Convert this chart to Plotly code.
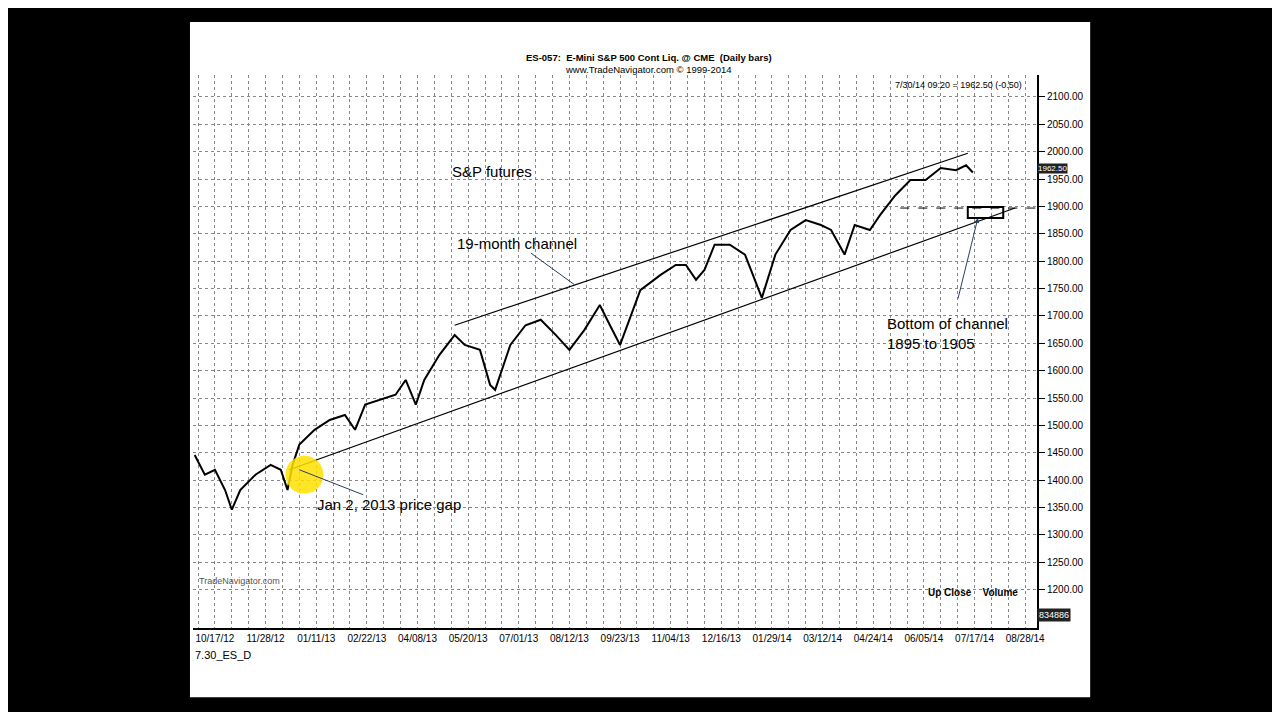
import plotly.graph_objects as go

# trading-day index (0 = 10/17/12) and E-mini S&P close
day = [-12, -6, 0, 6, 10, 15, 24, 33, 39, 43, 46, 50, 59, 68, 77, 83, 89, 98, 107, 113,
       119, 124, 133, 142, 148, 157, 163, 166, 175, 184, 193, 202, 210, 219, 228, 234,
       240, 252, 264, 273, 279, 285, 290, 296, 305, 314, 320, 324, 332, 341, 350, 359,
       365, 373, 379, 388, 394, 403, 412, 421, 430, 439, 445, 449]
close = [1446, 1410, 1419, 1382, 1346, 1382, 1410, 1428, 1419, 1382, 1428, 1465, 1492,
         1510, 1519, 1492, 1538, 1547, 1556, 1583, 1538, 1583, 1629, 1665, 1647, 1638,
         1574, 1565, 1647, 1683, 1693, 1665, 1638, 1675, 1720, 1683, 1647, 1747, 1775,
         1793, 1793, 1766, 1784, 1830, 1830, 1812, 1766, 1733, 1812, 1857, 1875, 1866,
         1857, 1812, 1866, 1857, 1884, 1920, 1948, 1948, 1970, 1966, 1975, 1962]

tick_days = list(range(0, 481, 30))
tick_labels = ["10/17/12", "11/28/12", "01/11/13", "02/22/13", "04/08/13", "05/20/13",
               "07/01/13", "08/12/13", "09/23/13", "11/04/13", "12/16/13", "01/29/14",
               "03/12/14", "04/24/14", "06/05/14", "07/17/14", "08/28/14"]
price_ticks = list(range(1200, 2101, 50))

upper_x, upper_y = [142, 446], [1683, 1997]
lower_x, lower_y = [44, 474], [1419, 1897]
zone_x, zone_y = [446, 467], [1879, 1899]
last_price = 1962.50

fig = go.Figure()
fig.add_trace(go.Scatter(x=upper_x, y=upper_y, mode="lines", line=dict(color="black", width=1.2)))
fig.add_trace(go.Scatter(x=lower_x, y=lower_y, mode="lines", line=dict(color="black", width=1.2)))
fig.add_trace(go.Scatter(x=[406, 487], y=[1897, 1897], mode="lines",
                         line=dict(color="black", width=1, dash="dash")))
fig.add_trace(go.Scatter(x=day, y=close, mode="lines", line=dict(color="black", width=2)))
fig.add_trace(go.Scatter(x=[53], y=[1410], mode="markers",
                         marker=dict(size=38, color="rgba(255,225,0,0.85)")))
fig.add_shape(type="rect", x0=zone_x[0], x1=zone_x[1], y0=zone_y[0], y1=zone_y[1],
              line=dict(color="black", width=2))

# white panel on black background
fig.add_shape(type="rect", xref="paper", yref="paper", x0=-0.0036, x1=1.063, y0=-0.125, y1=1.096,
              fillcolor="white", line=dict(width=0), layer="below")

font = dict(family="Liberation Sans, Arial", color="black")
big = dict(family="Liberation Sans, Arial", size=15, color="black")
fig.add_annotation(x=164, y=1963, text="S&P futures", showarrow=False, font=big)
fig.add_annotation(x=213, y=1757, ax=179, ay=1833, axref="x", ayref="y", text="19-month channel",
                   showarrow=True, arrowhead=0, arrowwidth=1, font=big)
fig.add_annotation(x=50, y=1419, ax=103, ay=1355, axref="x", ayref="y",
                   text="Jan 2, 2013 price gap", showarrow=True, arrowhead=0, arrowwidth=1, font=big)
fig.add_annotation(x=452, y=1879, ax=440, ay=1729, axref="x", ayref="y", text="",
                   showarrow=True, arrowhead=2, arrowwidth=1)
fig.add_annotation(x=397, y=1668, text="Bottom of channel<br>1895 to 1905", showarrow=False,
                   xanchor="left", align="left", font=big)

fig.add_annotation(xref="paper", yref="paper", x=0.54, y=1.045, showarrow=False,
                   text="<b>ES-057:  E-Mini S&P 500 Cont Liq. @ CME  (Daily bars)</b><br>www.TradeNavigator.com © 1999-2014",
                   font=dict(family="Liberation Sans, Arial", size=9.5))
fig.add_annotation(xref="paper", yref="paper", x=0.985, y=0.995, xanchor="right", showarrow=False,
                   text="7/30/14 09:20 = 1962.50 (-0.50)", font=dict(family="Liberation Sans, Arial", size=9))
fig.add_annotation(xref="paper", y=last_price + 6, x=1.0, xanchor="left", showarrow=False,
                   text=f"{last_price:.2f}", bgcolor="#222", borderpad=0,
                   font=dict(size=8, color="white"))
fig.add_annotation(xref="paper", yref="paper", x=0.98, y=0.05, xanchor="right", showarrow=False,
                   text="<b>Up Close    Volume</b>", font=dict(family="Liberation Sans, Arial", size=10))
fig.add_annotation(xref="paper", yref="paper", x=1.0, y=0.01, xanchor="left", showarrow=False,
                   text="834886", bgcolor="#222", font=dict(size=9, color="white"))
fig.add_annotation(xref="paper", yref="paper", x=0.005, y=0.072, xanchor="left", showarrow=False,
                   text="TradeNavigator.com", font=dict(family="Liberation Sans, Arial", size=9, color="#555"))
fig.add_annotation(xref="paper", yref="paper", x=0.0, y=-0.035, xanchor="left", yanchor="top",
                   showarrow=False, text="7.30_ES_D", font=dict(family="Liberation Sans, Arial", size=11))

fig.update_layout(
    width=1264, height=704, showlegend=False,
    paper_bgcolor="black", plot_bgcolor="white",
    margin=dict(l=185, r=235, t=67, b=84),
    font=font,
    xaxis=dict(range=[-13, 487], tickvals=tick_days, ticktext=tick_labels, showgrid=True,
               gridcolor="#888", griddash="dot", gridwidth=1, ticks="", zeroline=False,
               tickfont=dict(size=10, color="black"), showline=True, linecolor="black", linewidth=2,
               minor=dict(dtick=10, tick0=0, showgrid=True, gridcolor="#888", griddash="dot")),
    yaxis=dict(range=[1130, 2140], side="right", tickvals=price_ticks,
               ticktext=[f"{p:.2f}" for p in price_ticks], showgrid=True, gridcolor="#888",
               griddash="dot", ticks="outside", ticklen=6, tickcolor="black", zeroline=False,
               tickfont=dict(size=10, color="black"), showline=True, linecolor="black", linewidth=2),
)
fig.write_html("out.html")
